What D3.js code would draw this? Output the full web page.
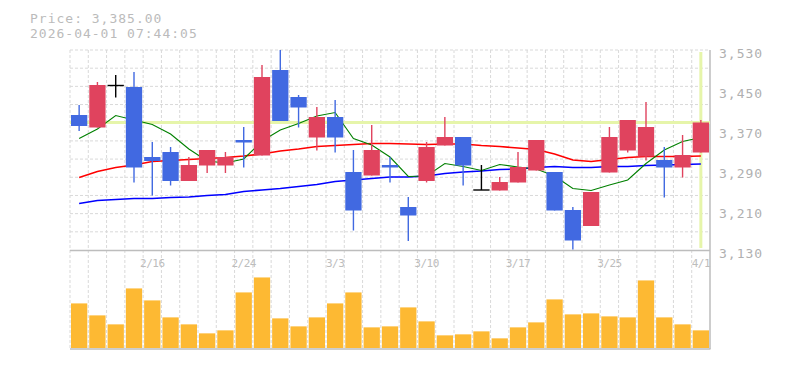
<!DOCTYPE html>
<html>
<head>
<meta charset="utf-8">
<script src="https://cdn.jsdelivr.net/npm/d3@7"></script>
<style>
  body { margin: 0; background: #fff; }
  text { font-family: "DejaVu Sans Mono", monospace; }
</style>
</head>
<body>
<svg id="chart" width="785" height="370"></svg>
<script>
// data
var dates = ["2/9","2/10","2/12","2/13","2/16","2/17","2/18","2/19","2/20","2/24",
             "2/25","2/26","2/27","3/2","3/3","3/4","3/5","3/6","3/9","3/10",
             "3/11","3/12","3/13","3/16","3/17","3/18","3/19","3/23","3/24","3/25",
             "3/26","3/27","3/30","3/31","4/1"];
var tickDates = ["2/16","2/24","3/3","3/10","3/17","3/25","4/1"];
var priceTicks = [3530, 3450, 3370, 3290, 3210, 3130];

var open  = [3400,3375,3459,3456,3316,3326,3268,3299,3299,3350,3319,3490,3436,3355,3396,3286,3279,3300,3216,3268,
             3339,3356,3250,3249,3265,3289,3286,3210,3178,3285,3329,3317,3310,3295,3325];
var high  = [3420,3466,3480,3486,3346,3336,3316,3330,3326,3376,3500,3530,3440,3416,3430,3330,3380,3316,3236,3346,
             3396,3356,3300,3276,3326,3350,3286,3216,3246,3376,3390,3426,3336,3360,3390];
var low   = [3368,3375,3435,3265,3239,3259,3268,3284,3284,3295,3319,3388,3375,3329,3325,3169,3279,3265,3148,3265,
             3339,3259,3250,3249,3265,3289,3209,3131,3178,3285,3325,3309,3235,3275,3325];
var close = [3378,3460,3459,3295,3308,3268,3300,3330,3316,3345,3476,3388,3415,3396,3355,3209,3330,3295,3199,3336,
             3356,3299,3250,3266,3296,3350,3209,3149,3246,3356,3390,3376,3295,3320,3385];
var volume = [13400,9800,7100,17900,14300,9200,7100,4400,5300,16700,21200,8900,6500,9200,13400,16700,6200,6500,12200,8000,
              3800,4100,5000,2900,6200,7700,14600,10100,10400,9500,9200,20300,9200,7100,5300];

// moving averages (short / mid / long)
var ma5  = [3353,3372,3399,3390,3381,3362,3332,3308,3304,3312,3348,3370,3383,3398,3405,3353,3340,3316,3277,3278,
            3303,3297,3289,3301,3296,3292,3278,3253,3249,3260,3270,3303,3330,3347,3355];
var ma25 = [3275,3287,3295,3300,3307,3309,3311,3313,3315,3318,3322,3328,3332,3337,3339,3341,3343,3343,3342,3341,
            3342,3342,3339,3337,3334,3331,3322,3310,3307,3311,3315,3317,3317,3317,3318];
var ma75 = [3223,3229,3231,3233,3233,3235,3236,3239,3241,3247,3250,3253,3257,3261,3267,3270,3273,3276,3276,3278,
            3283,3286,3288,3291,3292,3295,3297,3295,3295,3297,3297,3299,3300,3301,3302];

var lastPrice = 3385;
var stamp = "2026-04-01 07:44:05";

var upColor = "#e0435e", downColor = "#4169e1", volColor = "#fdb933";

var svg = d3.select("#chart");

// scales
var x = d3.scaleBand().domain(dates).range([70, 710]);
var y = d3.scaleLinear().domain([3130, 3530]).range([250, 50]);
var yv = d3.scaleLinear().domain([0, d3.max(volume) / 0.72]).range([348, 250]);
var cx = function(i) { return x(dates[i]) + x.bandwidth() / 2; };
var bw = x.bandwidth() - 2;

// grid
var grid = svg.append("g")
    .attr("stroke", "#d9d9d9")
    .attr("stroke-dasharray", "3,2");

grid.selectAll("line.h")
    .data(d3.range(11))
    .enter().append("line")
    .attr("x1", 70).attr("x2", 710)
    .attr("y1", function(k) { return 50 + k * 200 / 11; })
    .attr("y2", function(k) { return 50 + k * 200 / 11; });

grid.selectAll("line.v")
    .data(dates)
    .enter().append("line")
    .attr("x1", function(d) { return x(d); })
    .attr("x2", function(d) { return x(d); })
    .attr("y1", 50).attr("y2", 349);

// panel borders
var border = svg.append("g").attr("stroke", "#bdbdbd").attr("stroke-width", 1.5);
border.append("line").attr("x1", 70).attr("x2", 710).attr("y1", 250.5).attr("y2", 250.5);
border.append("line").attr("x1", 70).attr("x2", 710.5).attr("y1", 349).attr("y2", 349);
border.append("line").attr("x1", 710).attr("x2", 710).attr("y1", 50).attr("y2", 349);

// last price cross
svg.append("line")
    .attr("x1", 70).attr("x2", 710)
    .attr("y1", y(lastPrice)).attr("y2", y(lastPrice))
    .attr("stroke", "#e6f5aa").attr("stroke-width", 3);
svg.append("line")
    .attr("x1", cx(dates.length - 1)).attr("x2", cx(dates.length - 1))
    .attr("y1", y(3530) + 2).attr("y2", y(3130) - 2)
    .attr("stroke", "#e6f5aa").attr("stroke-width", 3);

// moving averages
var maLine = d3.line()
    .x(function(d, i) { return cx(i); })
    .y(function(d) { return y(d); });

[[ma75, "#0000ff", 1.6], [ma25, "#ff0000", 1.6], [ma5, "#008000", 1.1]].forEach(function(m) {
    svg.append("path")
        .datum(m[0])
        .attr("d", maLine)
        .attr("fill", "none")
        .attr("stroke", m[1])
        .attr("stroke-width", m[2]);
});

// candles
var colorOf = function(i) {
    if (close[i] > open[i]) return upColor;
    if (close[i] < open[i]) return downColor;
    return "#000";
};

var candles = svg.append("g").selectAll("g")
    .data(d3.range(dates.length))
    .enter().append("g");

candles.append("line")
    .attr("x1", cx).attr("x2", cx)
    .attr("y1", function(i) { return y(high[i]); })
    .attr("y2", function(i) { return y(low[i]); })
    .attr("stroke", colorOf)
    .attr("stroke-width", 1.4);

candles.filter(function(i) { return open[i] !== close[i]; })
    .append("rect")
    .attr("x", function(i) { return cx(i) - bw / 2; })
    .attr("width", bw)
    .attr("y", function(i) { return y(Math.max(open[i], close[i])); })
    .attr("height", function(i) { return Math.max(1, Math.abs(y(open[i]) - y(close[i]))); })
    .attr("fill", colorOf);

candles.filter(function(i) { return open[i] === close[i]; })
    .append("line")
    .attr("x1", function(i) { return cx(i) - bw / 2; })
    .attr("x2", function(i) { return cx(i) + bw / 2; })
    .attr("y1", function(i) { return y(close[i]); })
    .attr("y2", function(i) { return y(close[i]); })
    .attr("stroke", "#000")
    .attr("stroke-width", 1.4);

// volume
svg.append("g").selectAll("rect")
    .data(volume)
    .enter().append("rect")
    .attr("x", function(d, i) { return cx(i) - bw / 2; })
    .attr("width", bw)
    .attr("y", function(d) { return yv(d); })
    .attr("height", function(d) { return yv(0) - yv(d); })
    .attr("fill", volColor);

// price labels
svg.append("g").selectAll("text")
    .data(priceTicks)
    .enter().append("text")
    .attr("x", 719)
    .attr("y", function(d) { return y(d) + 7.5; })
    .attr("fill", "#b0b0b0")
    .attr("font-size", 13)
    .attr("letter-spacing", 1)
    .text(d3.format(","));

// date labels
svg.append("g").selectAll("text")
    .data(tickDates)
    .enter().append("text")
    .attr("x", function(d) { return x(d) + x.bandwidth() / 2; })
    .attr("y", 266.5)
    .attr("text-anchor", "middle")
    .attr("fill", "#bdbdbd")
    .attr("font-size", 11)
    .attr("letter-spacing", -0.5)
    .text(function(d) { return d; });

// header
svg.append("text")
    .attr("x", 30).attr("y", 22.5)
    .attr("fill", "#bbbbbb").attr("font-size", 13).attr("letter-spacing", 1)
    .text("Price: " + d3.format(",.2f")(lastPrice));
svg.append("text")
    .attr("x", 30).attr("y", 37.5)
    .attr("fill", "#bbbbbb").attr("font-size", 13).attr("letter-spacing", 1)
    .text(stamp);
</script>
</body>
</html>
